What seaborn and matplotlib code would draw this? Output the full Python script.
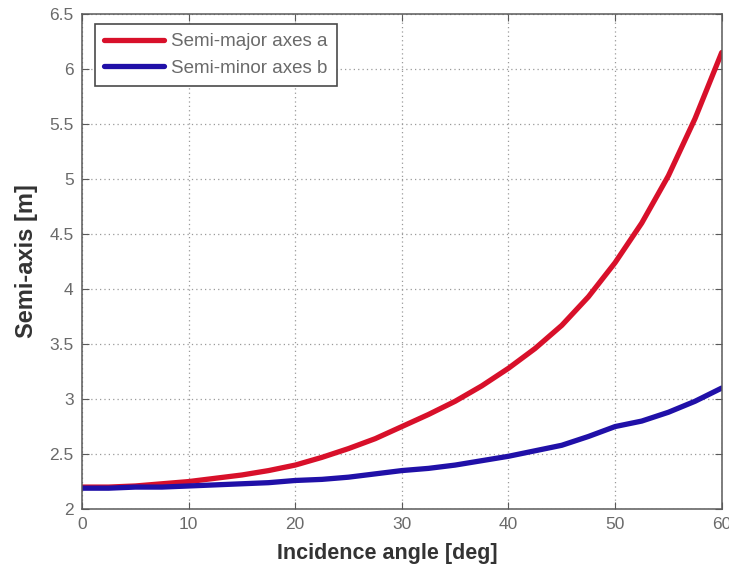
import matplotlib
matplotlib.use("Agg")
import matplotlib.pyplot as plt
import numpy as np
import pandas as pd
import seaborn as sns

# Incidence angle (deg) and ellipse semi-axes (m)
angle_deg = [0, 2.5, 5, 7.5, 10, 12.5, 15, 17.5, 20, 22.5, 25, 27.5, 30,
             32.5, 35, 37.5, 40, 42.5, 45, 47.5, 50, 52.5, 55, 57.5, 60]
semi_major_a = [2.20, 2.20, 2.21, 2.23, 2.25, 2.28, 2.31, 2.35, 2.40, 2.47,
                2.55, 2.64, 2.75, 2.86, 2.98, 3.12, 3.28, 3.46, 3.67, 3.93,
                4.24, 4.60, 5.03, 5.55, 6.15]
semi_minor_b = [2.19, 2.19, 2.20, 2.20, 2.21, 2.22, 2.23, 2.24, 2.26, 2.27,
                2.29, 2.32, 2.35, 2.37, 2.40, 2.44, 2.48, 2.53, 2.58, 2.66,
                2.75, 2.80, 2.88, 2.98, 3.10]
series_names = ["Semi-major axes a", "Semi-minor axes b"]
x_ticks = [0, 10, 20, 30, 40, 50, 60]
y_ticks = [2, 2.5, 3, 3.5, 4, 4.5, 5, 5.5, 6, 6.5]
y_tick_labels = ["2", "2.5", "3", "3.5", "4", "4.5", "5", "5.5", "6", "6.5"]

df = pd.DataFrame({
    "angle": angle_deg * 2,
    "value": semi_major_a + semi_minor_b,
    "series": [series_names[0]] * len(angle_deg) + [series_names[1]] * len(angle_deg),
})

sns.set_style("white")
plt.rcParams["font.family"] = ["Liberation Sans", "DejaVu Sans"]

fig = plt.figure(figsize=(7.29, 5.72), dpi=100)
ax = fig.add_axes([0.1125, 0.110, 0.8775, 0.8655])

palette = {series_names[0]: "#d8102a", series_names[1]: "#2010a8"}
sns.lineplot(data=df, x="angle", y="value", hue="series", palette=palette,
             linewidth=3.8, ax=ax, legend=True)

ax.set_xlim(0, 60)
ax.set_ylim(2, 6.5)
ax.set_xticks(x_ticks)
ax.set_xticklabels([str(t) for t in x_ticks])
ax.set_yticks(y_ticks)
ax.set_yticklabels(y_tick_labels)

ax.grid(True, linestyle=(0, (1, 2.5)), color="#9a9a9a", linewidth=0.9)
ax.set_axisbelow(True)

for side in ["left", "right", "top", "bottom"]:
    ax.spines[side].set_visible(True)
    ax.spines[side].set_color("#5a5a5a")
    ax.spines[side].set_linewidth(1.1)

ax.tick_params(axis="both", which="both", direction="in", length=5,
               color="#5a5a5a", labelsize=12.5, labelcolor="#6a6a6a",
               top=True, right=True, bottom=True, left=True, pad=6)

ax.set_xlabel("Incidence angle [deg]", fontsize=15.5, fontweight="bold",
              color="#333333")
ax.xaxis.set_label_coords(0.477, -0.068)
ax.set_ylabel("Semi-axis [m]", fontsize=17, fontweight="bold",
              color="#333333", labelpad=8)

leg = ax.legend(loc="upper left", bbox_to_anchor=(0.02, 0.98), fontsize=13.5,
                handlelength=3.2, frameon=True, fancybox=False,
                borderaxespad=0, borderpad=0.5, labelspacing=0.5,
                handletextpad=0.35)
leg.get_frame().set_edgecolor("#4a4a4a")
leg.get_frame().set_linewidth(1.2)
leg.get_frame().set_alpha(1)
for t in leg.get_texts():
    t.set_color("#6a6a6a")

fig.savefig("out.png", dpi=100)
